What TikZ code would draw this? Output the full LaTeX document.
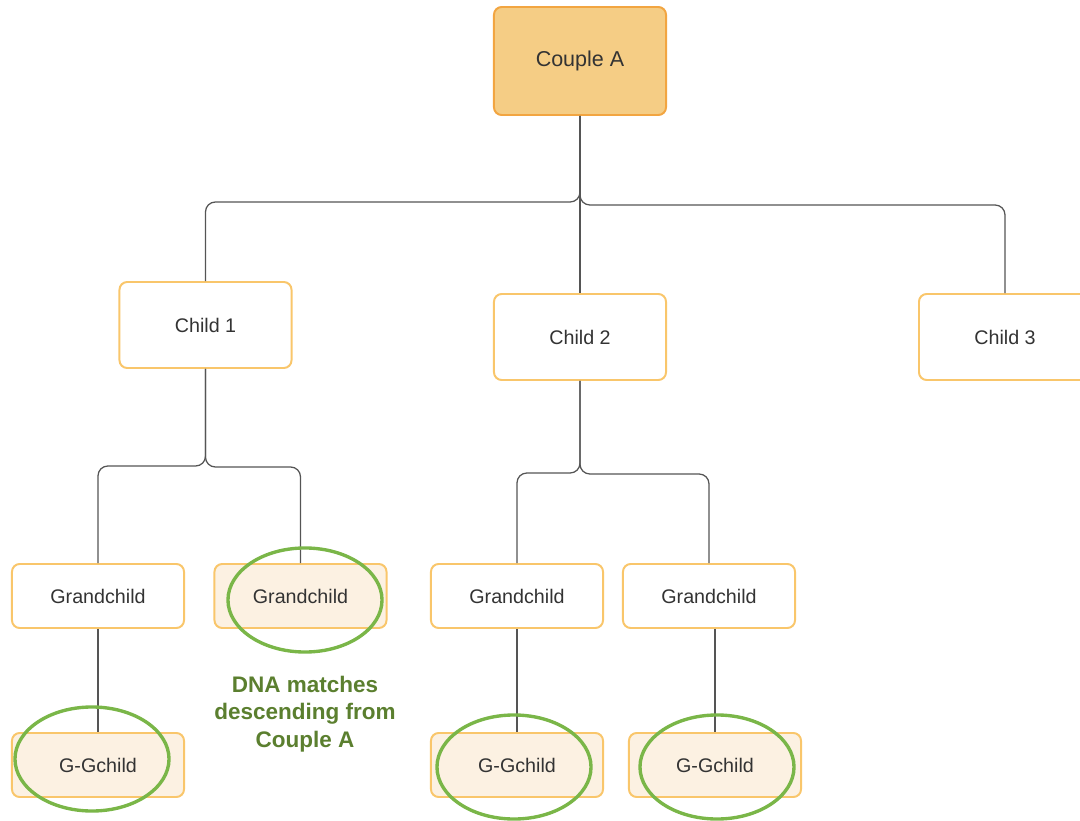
\documentclass[tikz,border=0pt]{standalone}
\usepackage{fontspec}
\setmainfont{Liberation Sans}
\usetikzlibrary{shapes.geometric}

\definecolor{coupleFill}{HTML}{F5CD85}
\definecolor{coupleLine}{HTML}{F2A541}
\definecolor{boxLine}{HTML}{F9C66B}
\definecolor{paleFill}{HTML}{FCF1E2}
\definecolor{ringGreen}{HTML}{7AB648}
\definecolor{noteGreen}{HTML}{5B7F2F}
\definecolor{linkGray}{HTML}{555555}
\definecolor{labelGray}{HTML}{333333}

\newcommand\MYboxwidth{4.3cm}
\newcommand\MYtallheight{2.15cm}
\newcommand\MYlowheight{1.6cm}

\begin{document}
\begin{tikzpicture}[x=0.025cm,y=-0.025cm,
  person/.style={draw=boxLine,line width=1.4pt,fill=white,rounded corners=5.5pt,
    minimum width=\MYboxwidth,text=labelGray,font=\fontsize{14}{17}\selectfont},
  tallbox/.style={person,minimum height=\MYtallheight},
  lowbox/.style={person,minimum height=\MYlowheight},
  couplebox/.style={person,draw=coupleLine,fill=coupleFill,minimum height=2.7cm,
    font=\fontsize{15.3}{18}\selectfont},
  matched/.style={fill=paleFill},
  ring/.style={draw=ringGreen,line width=2.4pt,ellipse,inner sep=0pt,
    minimum width=3.85cm,minimum height=2.6cm},
  link/.style={draw=linkGray,line width=0.9pt,rounded corners=7pt},
  note/.style={text=noteGreen,align=center,
    font=\fontsize{16}{19.5}\selectfont\bfseries}]

\useasboundingbox (0,0) rectangle (1080,821);

% generations
\node[couplebox] (coupleA) at (580,61) {Couple A};

\node[tallbox] (child1) at (205.5,325) {Child 1};
\node[tallbox] (child2) at (580,337) {Child 2};
\node[tallbox] (child3) at (1005,337) {Child 3};

\node[lowbox] (gc1) at (98,596) {Grandchild};
\node[lowbox,matched] (gc2) at (300.5,596) {Grandchild};
\node[lowbox] (gc3) at (517,596) {Grandchild};
\node[lowbox] (gc4) at (709,596) {Grandchild};

\node[lowbox,matched] (ggc1) at (98,765) {G-Gchild};
\node[lowbox,matched] (ggc2) at (517,765) {G-Gchild};
\node[lowbox,matched] (ggc3) at (715,765) {G-Gchild};

% connectors
\draw[link] (coupleA.south) -- ++(0,86) -| (child1.north);
\draw[link] (coupleA.south) -- ++(0,89) -| (child3.north);
\draw[link] (coupleA.south) -- (child2.north);

\draw[link] (child1.south) -- ++(0,97) -| (gc1.north);
\draw[link] (child1.south) -- ++(0,98) -| (gc2.north);

\draw[link] (child2.south) -- ++(0,92) -| (gc3.north);
\draw[link] (child2.south) -- ++(0,93) -| (gc4.north);

\draw[link] (gc1.south) -- (ggc1.north);
\draw[link] (gc3.south) -- (ggc2.north);
\draw[link] (gc4.south -| ggc3.north) -- (ggc3.north);

% matches
\node[ring] (ring1) at (305,600) {};
\node[ring] (ring2) at (92,759) {};
\node[ring] (ring3) at (514,767) {};
\node[ring] (ring4) at (717,767) {};

\node[note] (dnanote) at (305,714) {DNA matches\\descending from\\Couple A};

\end{tikzpicture}
\end{document}
